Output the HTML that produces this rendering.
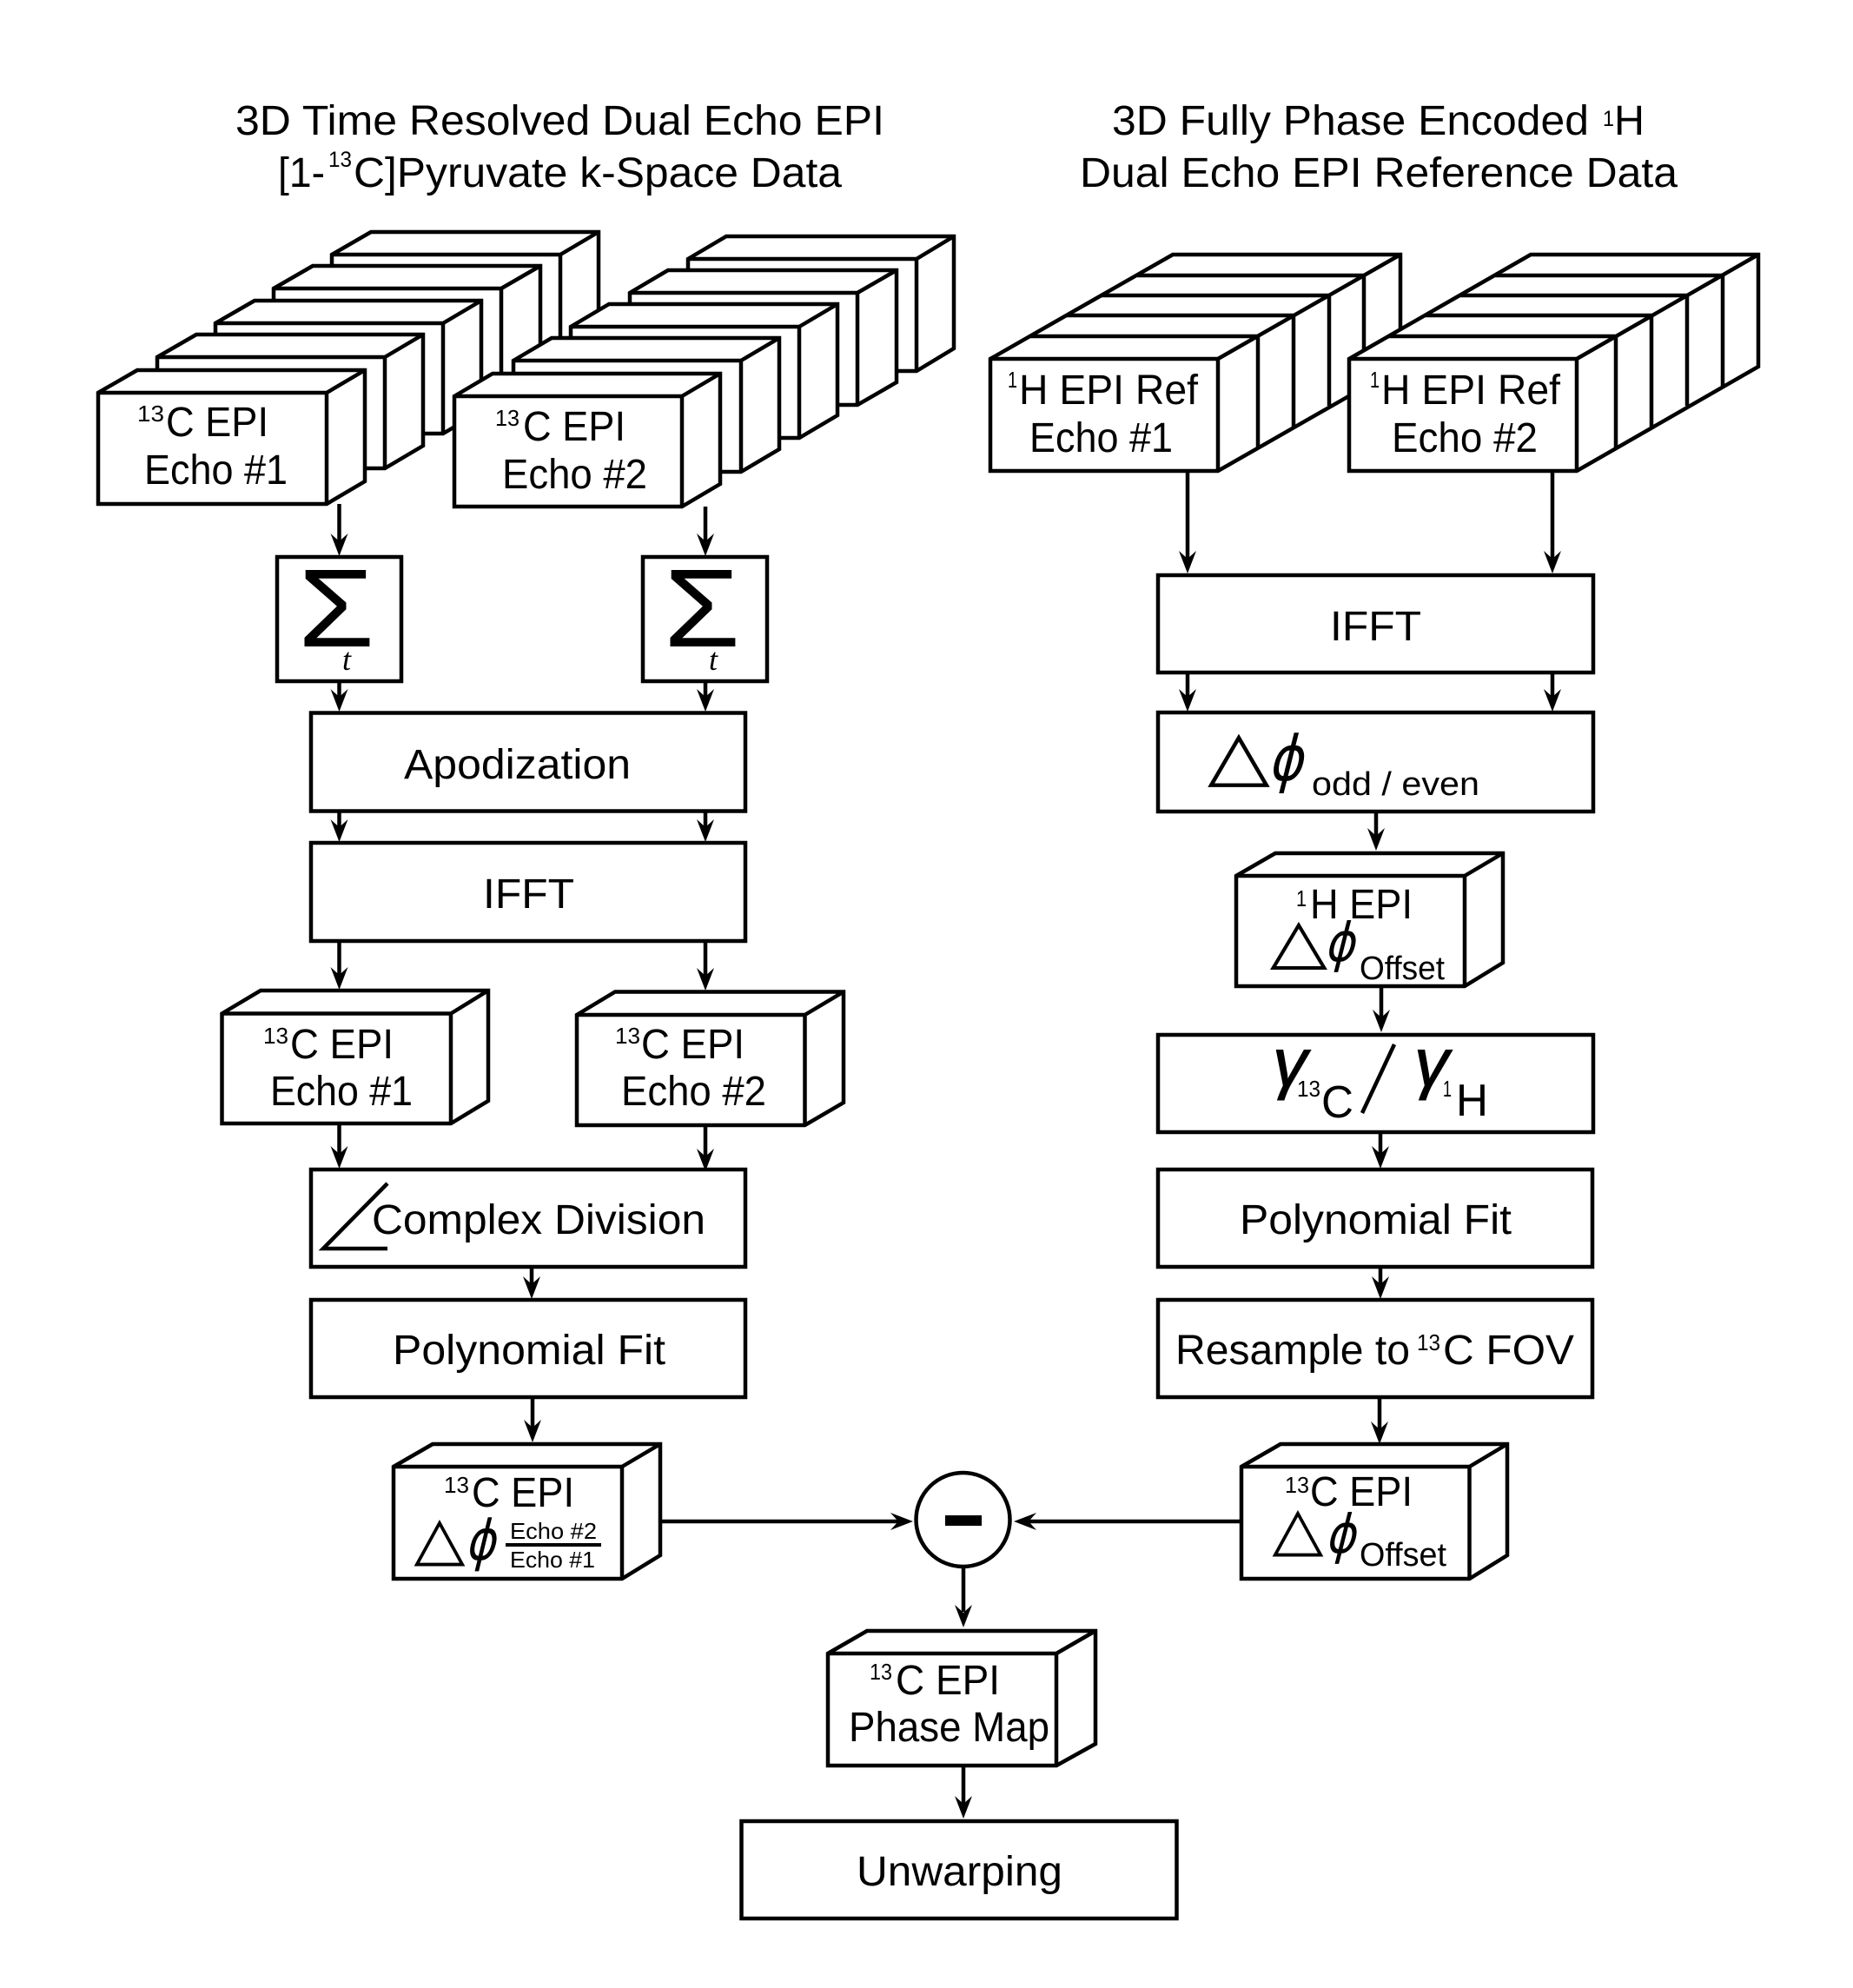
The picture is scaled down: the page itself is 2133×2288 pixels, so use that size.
<!DOCTYPE html>
<html><head><meta charset="utf-8"><style>
html,body{margin:0;padding:0;background:#fff}
svg{display:block}
text{font-family:"Liberation Sans",sans-serif;fill:#000}
.b{fill:#fff;stroke:#000;stroke-width:4.5;stroke-linejoin:miter}
.l{fill:none;stroke:#000;stroke-width:4.5}
.s{font-size:26px}
.ph{font-family:"DejaVu Sans",sans-serif;font-style:italic;text-anchor:middle}
.tr{font-family:"DejaVu Sans",sans-serif;text-anchor:middle}
.g{stroke:#000;stroke-width:1}
</style></head><body>
<svg xmlns="http://www.w3.org/2000/svg" width="2133" height="2288" viewBox="0 0 2133 2288">
<defs><polygon id="a" points="0,0 -10,-26 0,-17 10,-26"/><polygon id="al" points="0,0 -26,-10 -17,0 -26,10"/><polygon id="ar" points="0,0 26,-10 17,0 26,10"/></defs>
<rect width="2133" height="2288" fill="#fff"/>

<!-- titles -->
<text x="271" y="155" font-size="48" textLength="747" lengthAdjust="spacingAndGlyphs">3D Time Resolved Dual Echo EPI</text>
<text x="320" y="215" font-size="48" textLength="54" lengthAdjust="spacingAndGlyphs">[1-</text>
<text x="378" y="192" font-size="25" textLength="27" lengthAdjust="spacingAndGlyphs">13</text>
<text x="407" y="215" font-size="48" textLength="562" lengthAdjust="spacingAndGlyphs">C]Pyruvate k-Space Data</text>
<text x="1280" y="155" font-size="48" textLength="549" lengthAdjust="spacingAndGlyphs">3D Fully Phase Encoded</text>
<text x="1845" y="145" font-size="25" textLength="13" lengthAdjust="spacingAndGlyphs">1</text>
<text x="1858" y="155" font-size="48" textLength="35" lengthAdjust="spacingAndGlyphs">H</text>
<text x="1243" y="215" font-size="48" textLength="688" lengthAdjust="spacingAndGlyphs">Dual Echo EPI Reference Data</text>

<!-- 13C stack echo 1 -->
<path class="b" d="M382 293L427 267H689V395L645 421H382ZM382 293H645V421M645 293L689 267"/>
<path class="b" d="M315 332L360 306H622V433L577 459H315ZM315 332H577V459M577 332L622 306"/>
<path class="b" d="M248 372L293 346H554V473L510 499H248ZM248 372H510V499M510 372L554 346"/>
<path class="b" d="M181 411L226 385H487V513L443 539H181ZM181 411H443V539M443 411L487 385"/>
<path class="b" d="M113 452L158 426H420V554L376 580H113ZM113 452H376V580M376 452L420 426"/>
<!-- 13C stack echo 2 -->
<path class="b" d="M792 298L836 272H1098V401L1055 427H792ZM792 298H1055V427M1055 298L1098 272"/>
<path class="b" d="M725 337L769 311H1032V440L987 466H725ZM725 337H987V466M987 337L1032 311"/>
<path class="b" d="M657 376L701 350H964V478L920 504H657ZM657 376H920V504M920 376L964 350"/>
<path class="b" d="M591 415L635 389H897V517L853 543H591ZM591 415H853V543M853 415L897 389"/>
<path class="b" d="M523 456L567 430H829V557L785 583H523ZM523 456H785V583M785 456L829 430"/>
<text x="158" y="485" class="s" textLength="31" lengthAdjust="spacingAndGlyphs">13</text>
<text x="191" y="502" font-size="48" textLength="118" lengthAdjust="spacingAndGlyphs">C EPI</text>
<text x="166" y="557" font-size="48" textLength="165" lengthAdjust="spacingAndGlyphs">Echo #1</text>
<text x="570" y="490" class="s" textLength="28" lengthAdjust="spacingAndGlyphs">13</text>
<text x="602" y="507" font-size="48" textLength="118" lengthAdjust="spacingAndGlyphs">C EPI</text>
<text x="578" y="562" font-size="48" textLength="167" lengthAdjust="spacingAndGlyphs">Echo #2</text>

<!-- 1H stacks -->
<path class="b" d="M1140 413L1350 293H1612V422L1402 542H1140Z"/>
<path class="l" d="M1140 413H1402V542M1402 413L1612 293M1186 387H1448V515M1228 363H1489V491M1268 340H1530V467M1309 317H1570V444"/>
<path class="b" d="M1553 413L1762 293H2024V422L1815 542H1553Z"/>
<path class="l" d="M1553 413H1815V542M1815 413L2024 293M1599 387H1860V515M1640 363H1901V491M1680 340H1942V467M1721 317H1983V444"/>
<text x="1160" y="446" class="s" textLength="11" lengthAdjust="spacingAndGlyphs">1</text>
<text x="1173" y="465" font-size="48" textLength="206" lengthAdjust="spacingAndGlyphs">H EPI Ref</text>
<text x="1185" y="520" font-size="48" textLength="165" lengthAdjust="spacingAndGlyphs">Echo #1</text>
<text x="1577" y="446" class="s" textLength="11" lengthAdjust="spacingAndGlyphs">1</text>
<text x="1590" y="465" font-size="48" textLength="206" lengthAdjust="spacingAndGlyphs">H EPI Ref</text>
<text x="1602" y="520" font-size="48" textLength="168" lengthAdjust="spacingAndGlyphs">Echo #2</text>

<!-- connectors -->
<path class="l" d="M390.500 580V625M812 583V625M390.500 785V805M812 785V805M390.500 934V955M812 934V955M390.500 1083V1125M812 1083V1125M390.500 1293V1330M812 1296V1332M612 1458V1480M613 1608V1645M1367 542V645M1787 542V645M1367 774V803M1787 774V803M1584 934V963M1590 1134V1172M1589 1304V1330M1589 1458V1480M1588 1608V1645M760 1751H1040M1429 1751H1180M1109 1805V1855M1109 2032V2078"/>
<use href="#a" x="390.500" y="640"/><use href="#a" x="812" y="640"/>
<use href="#a" x="390.500" y="819"/><use href="#a" x="812" y="819"/>
<use href="#a" x="390.500" y="969"/><use href="#a" x="812" y="969"/>
<use href="#a" x="390.500" y="1139"/><use href="#a" x="812" y="1140"/>
<use href="#a" x="390.500" y="1345"/><use href="#a" x="812" y="1348"/>
<use href="#a" x="612" y="1495"/><use href="#a" x="613" y="1660"/>
<use href="#a" x="1367" y="660"/><use href="#a" x="1787" y="660"/>
<use href="#a" x="1367" y="819"/><use href="#a" x="1787" y="819"/>
<use href="#a" x="1584" y="979"/><use href="#a" x="1590" y="1188"/>
<use href="#a" x="1589" y="1345"/><use href="#a" x="1589" y="1495"/>
<use href="#a" x="1588" y="1662"/>
<use href="#al" x="1051" y="1751"/><use href="#ar" x="1167" y="1751"/>
<use href="#a" x="1109" y="1873"/><use href="#a" x="1109" y="2093"/>

<!-- sigma boxes -->
<rect class="b" x="319" y="641" width="143" height="143"/>
<rect class="b" x="740" y="641" width="143" height="143"/>
<text x="343" y="744" font-size="128" textLength="88" lengthAdjust="spacingAndGlyphs">Σ</text>
<text x="764" y="744" font-size="128" textLength="88" lengthAdjust="spacingAndGlyphs">Σ</text>
<text x="394" y="771" font-size="36" style="font-family:'Liberation Serif',serif;font-style:italic">t</text>
<text x="816" y="771" font-size="36" style="font-family:'Liberation Serif',serif;font-style:italic">t</text>

<!-- left column -->
<rect class="b" x="358" y="820.500" width="500" height="113"/>
<text x="465" y="896" font-size="48" textLength="261" lengthAdjust="spacingAndGlyphs">Apodization</text>
<rect class="b" x="358" y="970" width="500" height="113"/>
<text x="556" y="1045" font-size="48" textLength="105" lengthAdjust="spacingAndGlyphs">IFFT</text>

<path class="b" d="M255.500 1166.500L300 1140H562V1267L519 1293H255.500ZM255.500 1166.500H519V1293M519 1166.500L562 1140"/>
<text x="303" y="1201" class="s" textLength="29" lengthAdjust="spacingAndGlyphs">13</text>
<text x="334" y="1218" font-size="48" textLength="119" lengthAdjust="spacingAndGlyphs">C EPI</text>
<text x="311" y="1272" font-size="48" textLength="164" lengthAdjust="spacingAndGlyphs">Echo #1</text>
<path class="b" d="M664 1168L708 1141.500H971V1269L926.500 1295H664ZM664 1168H926.500V1295M926.500 1168L971 1141.500"/>
<text x="708" y="1201" class="s" textLength="29" lengthAdjust="spacingAndGlyphs">13</text>
<text x="738" y="1218" font-size="48" textLength="119" lengthAdjust="spacingAndGlyphs">C EPI</text>
<text x="715" y="1272" font-size="48" textLength="167" lengthAdjust="spacingAndGlyphs">Echo #2</text>

<rect class="b" x="358" y="1346" width="500" height="112"/>
<path class="l" d="M446 1362L372 1437H446"/>
<text x="428" y="1420" font-size="48" textLength="384" lengthAdjust="spacingAndGlyphs">Complex Division</text>
<rect class="b" x="358" y="1496" width="500" height="112"/>
<text x="452" y="1570" font-size="48" textLength="314" lengthAdjust="spacingAndGlyphs">Polynomial Fit</text>

<path class="b" d="M453 1688L498 1662H760V1790L716 1817H453ZM453 1688H716V1817M716 1688L760 1662"/>
<text x="511" y="1718" class="s" textLength="29" lengthAdjust="spacingAndGlyphs">13</text>
<text x="543" y="1734" font-size="48" textLength="118" lengthAdjust="spacingAndGlyphs">C EPI</text>
<text class="tr" transform="translate(506,1794) scale(1.1,1)" font-size="70">△</text>
<text class="ph" transform="translate(555,1795) scale(.87,1.07) skewX(-6)" font-size="60">ϕ</text>
<text x="587" y="1771" font-size="26" textLength="100" lengthAdjust="spacingAndGlyphs">Echo #2</text>
<rect x="582" y="1776" width="110" height="4"/>
<text x="587" y="1804" font-size="26" textLength="98" lengthAdjust="spacingAndGlyphs">Echo #1</text>

<!-- right column -->
<rect class="b" x="1333" y="662" width="501" height="112"/>
<text x="1531" y="737" font-size="48" textLength="105" lengthAdjust="spacingAndGlyphs">IFFT</text>
<rect class="b" x="1333" y="820" width="501" height="114"/>
<text class="tr" transform="translate(1426,896) scale(1.17,1)" font-size="80">△</text>
<text class="ph" transform="translate(1482,898) scale(1,1.2) skewX(-6)" font-size="60">ϕ</text>
<text x="1510" y="915" font-size="38" textLength="193" lengthAdjust="spacingAndGlyphs">odd / even</text>

<path class="b" d="M1423 1008L1468 982H1730V1108L1686 1135H1423ZM1423 1008H1686V1135M1686 1008L1730 982"/>
<text x="1492" y="1043" class="s" textLength="12" lengthAdjust="spacingAndGlyphs">1</text>
<text x="1508" y="1057" font-size="48" textLength="118" lengthAdjust="spacingAndGlyphs">H EPI</text>
<text class="tr" transform="translate(1495,1107) scale(1.2,1)" font-size="72">△</text>
<text class="ph" transform="translate(1544,1106) scale(.87,1.03) skewX(-6)" font-size="60">ϕ</text>
<text x="1565" y="1127" font-size="38" textLength="98" lengthAdjust="spacingAndGlyphs">Offset</text>

<rect class="b" x="1333" y="1191" width="501" height="112"/>
<text class="g" x="1465" y="1250" font-size="78" font-style="italic" textLength="40" lengthAdjust="spacingAndGlyphs">γ</text>
<text x="1493" y="1262" class="s" textLength="27" lengthAdjust="spacingAndGlyphs">13</text>
<text x="1521" y="1286" font-size="52" textLength="37" lengthAdjust="spacingAndGlyphs">C</text>
<path class="l" d="M1605 1202L1568 1281"/>
<text class="g" x="1628" y="1250" font-size="78" font-style="italic" textLength="40" lengthAdjust="spacingAndGlyphs">γ</text>
<text x="1661" y="1262" class="s" textLength="10" lengthAdjust="spacingAndGlyphs">1</text>
<text x="1676" y="1284" font-size="52" textLength="37" lengthAdjust="spacingAndGlyphs">H</text>

<rect class="b" x="1333" y="1346" width="500" height="112"/>
<text x="1427" y="1420" font-size="48" textLength="313" lengthAdjust="spacingAndGlyphs">Polynomial Fit</text>
<rect class="b" x="1333" y="1496" width="500" height="112"/>
<text x="1353" y="1570" font-size="48" textLength="270" lengthAdjust="spacingAndGlyphs">Resample to</text>
<text x="1631" y="1554" class="s" textLength="27" lengthAdjust="spacingAndGlyphs">13</text>
<text x="1661" y="1570" font-size="48" textLength="151" lengthAdjust="spacingAndGlyphs">C FOV</text>

<path class="b" d="M1429 1688L1474 1662H1735V1790L1691.500 1817H1429ZM1429 1688H1691.500V1817M1691.500 1688L1735 1662"/>
<text x="1479" y="1718" class="s" textLength="28" lengthAdjust="spacingAndGlyphs">13</text>
<text x="1508" y="1733" font-size="48" textLength="118" lengthAdjust="spacingAndGlyphs">C EPI</text>
<text class="tr" transform="translate(1494,1783) scale(1.1,1)" font-size="70">△</text>
<text class="ph" transform="translate(1545,1787) scale(.87,1.03) skewX(-6)" font-size="60">ϕ</text>
<text x="1565" y="1802" font-size="38" textLength="100" lengthAdjust="spacingAndGlyphs">Offset</text>

<!-- minus node -->
<ellipse class="b" cx="1108.500" cy="1749" rx="54" ry="54"/>
<rect x="1088" y="1744" width="42" height="12"/>

<!-- bottom -->
<path class="b" d="M953 1903L998 1877H1261V2007L1216 2032H953ZM953 1903H1216V2032M1216 1903L1261 1877"/>
<text x="1001" y="1933" class="s" textLength="26" lengthAdjust="spacingAndGlyphs">13</text>
<text x="1031" y="1950" font-size="48" textLength="120" lengthAdjust="spacingAndGlyphs">C EPI</text>
<text x="977" y="2004" font-size="48" textLength="231" lengthAdjust="spacingAndGlyphs">Phase Map</text>
<rect class="b" x="853.500" y="2096" width="501" height="112"/>
<text x="986" y="2170" font-size="48" textLength="237" lengthAdjust="spacingAndGlyphs">Unwarping</text>
</svg>
</body></html>
